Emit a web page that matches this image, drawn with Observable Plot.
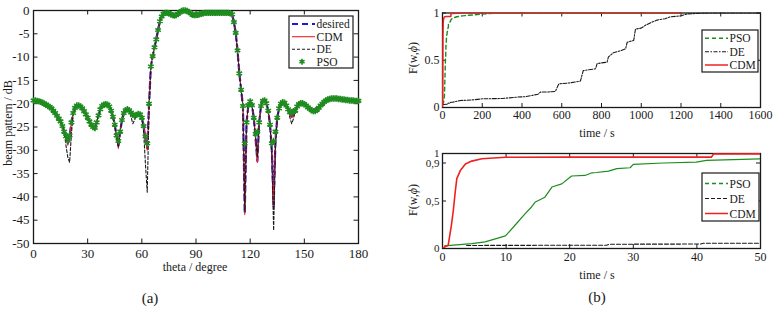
<!DOCTYPE html>
<html>
<head>
<meta charset="utf-8">
<script src="https://cdn.jsdelivr.net/npm/d3@7"></script>
<script src="https://cdn.jsdelivr.net/npm/@observablehq/plot@0.6"></script>
<style>
  body { margin: 0; background: #fff; }
  #fig { position: relative; width: 779px; height: 310px; font-family: "Liberation Serif", "Times New Roman", serif; color: #1a1a1a; overflow: hidden; }
  #fig svg { position: absolute; overflow: visible; font-family: "Liberation Serif", "Times New Roman", serif; }
  .lbl { position: absolute; white-space: nowrap; transform: translate(-50%, -50%); line-height: 1; }
  .rot { transform: translate(-50%, -50%) rotate(-90deg); }
</style>
</head>
<body>
<div id="fig"></div>
<script>
// ---- (a) beam pattern, one sample per degree ----
const theta = d3.range(0, 181);

const desired = [
  -19.3,-19.3,-19.4,-19.5,-19.6,-19.8,-20.0,-20.2,-20.5,-20.7,
  -21.0,-21.5,-22.0,-22.6,-23.2,-23.8,-24.8,-26.0,-27.3,-28.6,
  -27.0,-24.0,-22.0,-20.9,-20.4,-20.4,-20.6,-21.0,-21.6,-22.3,
  -23.0,-23.8,-24.5,-25.0,-25.2,-24.0,-22.5,-21.2,-20.5,-20.2,
  -20.1,-20.2,-20.6,-21.5,-22.8,-24.5,-27.0,-29.0,-26.0,-23.5,
  -22.0,-21.4,-21.2,-21.4,-21.9,-22.4,-22.6,-22.4,-22.2,-22.3,
  -23.0,-24.8,-27.5,-29.5,-20.0,-12.0,-9.8,-7.9,-6.2,-4.2,
  -2.3,-1.3,-0.7,-0.5,-0.5,-0.6,-0.8,-1.0,-1.1,-1.0,
  -0.7,-0.4,-0.1,0.0,0.0,-0.1,-0.3,-0.6,-0.9,-1.0,
  -1.0,-0.9,-0.8,-0.7,-0.6,-0.5,-0.5,-0.5,-0.5,-0.5,
  -0.5,-0.5,-0.5,-0.5,-0.5,-0.5,-0.5,-0.5,-0.5,-0.6,
  -0.8,-2.5,-4.8,-8.6,-13.5,-17.0,-20.5,-43.5,-24.0,-20.3,
  -19.5,-20.3,-23.0,-27.5,-32.3,-24.0,-20.5,-19.4,-19.3,-19.9,
  -21.5,-24.5,-30.0,-42.0,-28.0,-23.0,-21.0,-20.0,-19.7,-19.8,
  -20.4,-21.2,-22.2,-22.8,-22.4,-21.5,-20.6,-20.1,-19.9,-19.9,
  -20.1,-20.4,-20.8,-21.1,-21.4,-21.6,-21.6,-21.3,-20.9,-20.4,
  -20.0,-19.6,-19.3,-19.1,-19.0,-18.9,-18.9,-18.9,-18.9,-19.0,
  -19.0,-19.1,-19.1,-19.2,-19.2,-19.3,-19.3,-19.3,-19.4,-19.4,-19.4
];

const cdmPattern = [
  -19.3,-19.3,-19.4,-19.5,-19.6,-19.8,-20.0,-20.2,-20.5,-20.7,
  -21.0,-21.5,-22.0,-22.6,-23.2,-23.8,-24.8,-26.0,-27.6,-28.9,
  -27.0,-24.0,-22.0,-20.9,-20.4,-20.4,-20.6,-21.0,-21.6,-22.3,
  -23.0,-23.8,-24.5,-25.0,-25.2,-24.0,-22.5,-21.2,-20.5,-20.2,
  -20.1,-20.2,-20.6,-21.5,-22.8,-24.5,-27.0,-29.6,-26.0,-23.5,
  -22.0,-21.4,-21.2,-21.4,-21.9,-22.4,-22.6,-22.4,-22.2,-22.3,
  -23.0,-24.8,-27.5,-30.0,-20.0,-12.0,-9.8,-7.9,-6.2,-4.2,
  -2.3,-1.3,-0.7,-0.5,-0.5,-0.6,-0.8,-1.0,-1.1,-1.0,
  -0.7,-0.4,-0.1,0.0,0.0,-0.1,-0.3,-0.6,-0.9,-1.0,
  -1.0,-0.9,-0.8,-0.7,-0.6,-0.5,-0.5,-0.5,-0.5,-0.5,
  -0.5,-0.5,-0.5,-0.5,-0.5,-0.5,-0.5,-0.5,-0.5,-0.6,
  -0.8,-2.5,-4.8,-8.6,-13.5,-17.0,-20.5,-43.8,-24.0,-20.3,
  -19.5,-20.3,-23.0,-27.5,-32.6,-24.0,-20.5,-19.4,-19.3,-19.9,
  -21.5,-24.5,-30.0,-42.5,-28.0,-23.0,-21.0,-20.0,-19.7,-19.8,
  -20.4,-21.2,-22.4,-23.0,-22.4,-21.5,-20.6,-20.1,-19.9,-19.9,
  -20.1,-20.4,-20.8,-21.1,-21.4,-21.6,-21.6,-21.3,-20.9,-20.4,
  -20.0,-19.6,-19.3,-19.1,-19.0,-18.9,-18.9,-18.9,-18.9,-19.0,
  -19.0,-19.1,-19.1,-19.2,-19.2,-19.3,-19.3,-19.3,-19.4,-19.4,-19.4
];

const dePattern = [
  -19.3,-19.3,-19.4,-19.5,-19.6,-19.8,-20.0,-20.2,-20.5,-20.7,
  -21.0,-21.5,-22.0,-22.6,-23.2,-23.8,-24.8,-26.0,-29.0,-31.5,
  -32.6,-26.5,-22.0,-20.9,-20.4,-20.4,-20.6,-21.0,-21.6,-22.3,
  -23.0,-23.8,-24.5,-25.0,-25.8,-24.0,-22.5,-21.2,-20.5,-20.2,
  -20.1,-20.2,-20.6,-21.5,-22.8,-24.5,-27.5,-29.3,-26.0,-23.5,
  -22.0,-21.4,-21.2,-21.4,-22.8,-24.3,-23.5,-22.4,-22.2,-22.3,
  -23.0,-26.0,-33.0,-39.0,-21.0,-12.0,-9.8,-7.9,-6.2,-4.2,
  -2.3,-1.3,-0.7,-0.5,-0.5,-0.6,-0.8,-1.0,-1.1,-1.0,
  -0.7,-0.4,-0.1,0.0,0.0,-0.1,-0.3,-0.6,-0.9,-1.0,
  -1.0,-0.9,-0.8,-0.7,-0.6,-0.5,-0.5,-0.5,-0.5,-0.5,
  -0.5,-0.5,-0.5,-0.5,-0.5,-0.5,-0.5,-0.5,-0.5,-0.6,
  -0.8,-2.5,-4.8,-8.6,-13.5,-17.0,-20.5,-43.0,-24.0,-20.3,
  -19.5,-20.3,-23.0,-27.0,-31.5,-24.0,-20.5,-19.4,-19.3,-19.9,
  -21.5,-24.5,-31.0,-47.2,-29.0,-23.0,-21.0,-20.0,-19.7,-19.8,
  -20.4,-21.2,-23.0,-24.3,-23.2,-21.5,-20.6,-20.1,-19.9,-19.9,
  -20.1,-20.4,-20.8,-21.1,-21.4,-21.6,-21.0,-20.7,-20.6,-20.4,
  -20.0,-19.6,-19.3,-19.1,-19.0,-18.9,-18.9,-18.9,-18.9,-19.0,
  -19.0,-19.1,-19.1,-19.2,-19.2,-19.3,-19.3,-19.3,-19.4,-19.4,-19.4
];

const psoPattern = [
  -19.3,-19.3,-19.4,-19.5,-19.6,-19.8,-20.0,-20.2,-20.5,-20.7,
  -21.0,-21.5,-22.0,-22.6,-23.2,-23.8,-24.8,-26.0,-27.0,-27.9,
  -26.8,-24.0,-22.0,-20.9,-20.4,-20.4,-20.6,-21.0,-21.6,-22.3,
  -23.0,-23.8,-24.5,-25.0,-25.2,-24.0,-22.5,-21.2,-20.5,-20.2,
  -20.1,-20.2,-20.6,-21.5,-22.8,-24.5,-26.8,-28.0,-26.0,-23.5,
  -22.0,-21.4,-21.2,-21.4,-21.9,-22.4,-22.6,-22.4,-22.2,-22.3,
  -23.0,-24.8,-27.0,-28.5,-20.0,-12.0,-9.8,-7.9,-6.2,-4.2,
  -2.3,-1.3,-0.7,-0.5,-0.5,-0.6,-0.8,-1.0,-1.1,-1.0,
  -0.7,-0.4,-0.1,0.0,0.0,-0.1,-0.3,-0.6,-0.9,-1.0,
  -1.0,-0.9,-0.8,-0.7,-0.6,-0.5,-0.5,-0.5,-0.5,-0.5,
  -0.5,-0.5,-0.5,-0.5,-0.5,-0.5,-0.5,-0.5,-0.5,-0.6,
  -0.8,-2.5,-4.8,-8.6,-13.5,-17.0,-20.5,-28.5,-24.0,-20.3,
  -19.5,-20.3,-23.0,-26.5,-26.0,-24.0,-20.5,-19.4,-19.3,-19.9,
  -21.5,-24.5,-28.5,-28.0,-26.0,-23.0,-21.0,-20.0,-19.7,-19.8,
  -20.4,-21.2,-21.8,-21.9,-21.6,-21.5,-20.6,-20.1,-19.9,-19.9,
  -20.1,-20.4,-20.8,-21.1,-21.4,-21.6,-21.6,-21.3,-20.9,-20.4,
  -20.0,-19.6,-19.3,-19.1,-19.0,-18.9,-18.9,-18.9,-18.9,-19.0,
  -19.0,-19.1,-19.1,-19.2,-19.2,-19.3,-19.3,-19.3,-19.4,-19.4,-19.4
];

const thetaTicks = [0, 30, 60, 90, 120, 150, 180];
const dbTicks = [-50, -45, -40, -35, -30, -25, -20, -15, -10, -5, 0];

// ---- (b) convergence: normalized objective F(w,phi) against run time ----
const cdmTime = [0, 0.4, 0.9, 1.4, 1.7, 2.0, 2.25, 2.8, 3.6, 4.6, 6.2, 9.9, 20, 30, 42.3, 42.6, 50, 100, 300, 600, 900, 1200];
const cdmF    = [0, 0.018, 0.035, 0.245, 0.40, 0.595, 0.735, 0.82, 0.89, 0.92, 0.944, 0.96, 0.962, 0.962, 0.962, 0.995, 0.996, 1, 1, 1, 1, 1];

const psoTime = [0.3, 4.6, 6.7, 9.9, 11.4, 13.0, 14.0, 14.6, 16.1, 17.2, 18.75, 20.3, 22.4, 23.5, 24.2, 26.1, 27.4, 29.5, 30.0, 34.7, 39.9, 41.5, 50, 72, 100, 156, 200, 300, 600, 900, 1200];
const psoF    = [0.028, 0.052, 0.07, 0.133, 0.245, 0.367, 0.437, 0.49, 0.54, 0.647, 0.68, 0.763, 0.769, 0.797, 0.80, 0.815, 0.84, 0.85, 0.885, 0.90, 0.91, 0.927, 0.944, 0.96, 0.97, 0.98, 0.99, 1, 1, 1, 1];

const deTime = [3.8, 25.8, 26.2, 40.6, 41, 50, 90, 150, 200, 300, 376, 420, 451, 480, 493, 540, 568, 585, 640, 694, 708, 770, 778, 828, 835, 860, 895, 921, 929, 962, 971, 1000, 1021, 1050, 1080, 1120, 1147, 1200, 1231, 1280, 1332, 1400, 1600];
const deF    = [0.032, 0.035, 0.045, 0.047, 0.055, 0.056, 0.074, 0.08, 0.092, 0.095, 0.11, 0.115, 0.128, 0.14, 0.163, 0.165, 0.17, 0.25, 0.26, 0.28, 0.39, 0.41, 0.465, 0.48, 0.535, 0.58, 0.60, 0.62, 0.69, 0.71, 0.83, 0.84, 0.87, 0.90, 0.925, 0.94, 0.96, 0.97, 0.99, 0.995, 1, 1, 1];

const timeTicksLong  = [0, 200, 400, 600, 800, 1000, 1200, 1400, 1600];
const fTicksLong     = [0, 0.5, 1];
const timeTicksShort = [0, 10, 20, 30, 40, 50];
const fTicksShort    = [0, 0.5, 0.9, 1];

// ---- styling ----
const RED = "#f02020", GREEN = "#1f8c1f", BLUE = "#1a1ad2", INK = "#1a1a1a";
const FONT = '"Liberation Serif", "Times New Roman", serif';

const beamRows = theta.map((t, i) => ({theta: t, desired: desired[i], cdm: cdmPattern[i], de: dePattern[i], pso: psoPattern[i]}));
const cdmRows = cdmTime.map((t, i) => ({t, f: cdmF[i]}));
const psoRows = psoTime.map((t, i) => ({t, f: psoF[i]}));
const deRows  = deTime.map((t, i) => ({t, f: deF[i]}));

const fig = document.getElementById("fig");
const plain = d => String(d);
const comma = d => String(d).replace(".", ",");

// MATLAB-like box: inward ticks on all four sides
function boxTicks(xTicks, yTicks, innerW, innerH, len) {
  return [
    Plot.ruleX(xTicks, {x: d => d, insetTop: innerH - len, stroke: INK, strokeWidth: 1}),
    Plot.ruleX(xTicks, {x: d => d, insetBottom: innerH - len, stroke: INK, strokeWidth: 1}),
    Plot.ruleY(yTicks, {y: d => d, insetRight: innerW - len, stroke: INK, strokeWidth: 1}),
    Plot.ruleY(yTicks, {y: d => d, insetLeft: innerW - len, stroke: INK, strokeWidth: 1}),
    Plot.frame({stroke: INK, strokeWidth: 1.3})
  ];
}

function place(svg, left, top) {
  svg.style.left = left + "px";
  svg.style.top = top + "px";
  fig.appendChild(svg);
}

// (a)
{
  const W = 390, H = 280, ml = 33, mr = 32, mt = 10, mb = 37;
  const svg = Plot.plot({
    width: W, height: H, marginLeft: ml, marginRight: mr, marginTop: mt, marginBottom: mb,
    x: {domain: [0, 180], axis: null},
    y: {domain: [-50, 0], axis: null},
    style: {fontFamily: FONT, fontSize: "13px", color: INK, background: "transparent", overflow: "visible"},
    marks: [
      ...boxTicks(thetaTicks, dbTicks, W - ml - mr, H - mt - mb, 4.5),
      Plot.axisX(thetaTicks, {anchor: "bottom", tickSize: 0, tickPadding: 5, tickFormat: plain, label: null}),
      Plot.axisY(dbTicks, {anchor: "left", tickSize: 0, tickPadding: 4, tickFormat: plain, label: null}),
      Plot.line(beamRows, {x: "theta", y: "desired", stroke: BLUE, strokeWidth: 2.2, strokeDasharray: "6,4"}),
      Plot.line(beamRows, {x: "theta", y: "cdm", stroke: RED, strokeWidth: 1.1}),
      Plot.line(beamRows, {x: "theta", y: "de", stroke: INK, strokeWidth: 1.1, strokeDasharray: "3,2"}),
      Plot.dot(beamRows, {x: "theta", y: "pso", symbol: "asterisk", r: 3, stroke: GREEN, strokeWidth: 1.6})
    ]
  });
  place(svg, 0, 0);
}

// (b) upper: full run
{
  const W = 389, H = 140, ml = 52, mr = 19, mt = 12.5, mb = 33;
  const svg = Plot.plot({
    width: W, height: H, marginLeft: ml, marginRight: mr, marginTop: mt, marginBottom: mb,
    x: {domain: [0, 1600], axis: null},
    y: {domain: [0, 1], axis: null},
    style: {fontFamily: FONT, fontSize: "12px", color: INK, background: "transparent", overflow: "visible"},
    marks: [
      ...boxTicks(timeTicksLong, fTicksLong, W - ml - mr, H - mt - mb, 4),
      Plot.axisX(timeTicksLong, {anchor: "bottom", tickSize: 0, tickPadding: 3, tickFormat: plain, label: null}),
      Plot.axisY(fTicksLong, {anchor: "left", tickSize: 0, tickPadding: 3, tickFormat: plain, label: null}),
      Plot.line(psoRows, {x: "t", y: "f", stroke: GREEN, strokeWidth: 1.4, strokeDasharray: "4,3", clip: true}),
      Plot.line(deRows, {x: "t", y: "f", stroke: INK, strokeWidth: 1.1, strokeDasharray: "4,1.5,1.5,1.5", clip: true}),
      Plot.line(cdmRows, {x: "t", y: "f", stroke: RED, strokeWidth: 1.5, clip: true})
    ]
  });
  place(svg, 390, 0);
}

// (b) lower: first 50 s
{
  const W = 389, H = 140, ml = 52, mr = 19, mt = 13, mb = 32;
  const svg = Plot.plot({
    width: W, height: H, marginLeft: ml, marginRight: mr, marginTop: mt, marginBottom: mb,
    x: {domain: [0, 50], axis: null},
    y: {domain: [0, 1], axis: null},
    style: {fontFamily: FONT, fontSize: "12px", color: INK, background: "transparent", overflow: "visible"},
    marks: [
      ...boxTicks(timeTicksShort, fTicksShort, W - ml - mr, H - mt - mb, 4),
      Plot.axisX(timeTicksShort, {anchor: "bottom", tickSize: 0, tickPadding: 4, tickFormat: plain, label: null}),
      Plot.axisY(fTicksShort, {anchor: "left", tickSize: 0, tickPadding: 3, tickFormat: comma, label: null, fontSize: 11}),
      Plot.line(psoRows, {x: "t", y: "f", stroke: GREEN, strokeWidth: 1.2, clip: true}),
      Plot.line(deRows, {x: "t", y: "f", stroke: INK, strokeWidth: 1.1, strokeDasharray: "4,2", clip: true}),
      Plot.line(cdmRows, {x: "t", y: "f", stroke: RED, strokeWidth: 1.6, clip: true})
    ]
  });
  place(svg, 390, 140);
}

// ---- legends ----
const ov = d3.select(fig).append("svg")
  .attr("width", 779).attr("height", 310)
  .style("left", "0px").style("top", "0px")
  .style("font-family", FONT);

function legend(x, y, w, h, rows) {
  const g = ov.append("g");
  g.append("rect").attr("x", x).attr("y", y).attr("width", w).attr("height", h)
    .attr("fill", "#fff").attr("stroke", INK).attr("stroke-width", 1.2);
  for (const r of rows) {
    if (r.symbol) {
      g.append("path").attr("d", d3.symbol(d3.symbolAsterisk, 24)())
        .attr("transform", `translate(${x + 13},${r.y})`)
        .attr("fill", "none").attr("stroke", r.stroke).attr("stroke-width", 1.6);
    } else {
      g.append("line").attr("x1", x + 3).attr("x2", x + 26).attr("y1", r.y).attr("y2", r.y)
        .attr("stroke", r.stroke).attr("stroke-width", r.width).attr("stroke-dasharray", r.dash || null);
    }
    g.append("text").attr("x", x + 27.5).attr("y", r.y).attr("dy", "0.35em")
      .attr("font-size", "11.5px").attr("fill", INK).text(r.label);
  }
}

legend(289, 16, 64, 52, [
  {label: "desired", y: 24, stroke: BLUE, width: 2.2, dash: "6,4"},
  {label: "CDM", y: 36.7, stroke: RED, width: 1.1},
  {label: "DE", y: 49.3, stroke: INK, width: 1.1, dash: "3,2"},
  {label: "PSO", y: 61.7, stroke: GREEN, symbol: true}
]);
legend(702, 30, 56, 42, [
  {label: "PSO", y: 38.3, stroke: GREEN, width: 1.4, dash: "4,3"},
  {label: "DE", y: 51.7, stroke: INK, width: 1.1, dash: "4,1.5,1.5,1.5"},
  {label: "CDM", y: 65, stroke: RED, width: 1.5}
]);
legend(702, 173, 57, 48, [
  {label: "PSO", y: 183.5, stroke: GREEN, width: 1.4, dash: "4,3"},
  {label: "DE", y: 198.5, stroke: INK, width: 1.1, dash: "4,2"},
  {label: "CDM", y: 213.5, stroke: RED, width: 1.5}
]);

// ---- axis titles and panel captions ----
function label(html, x, y, size, rotate) {
  const d = document.createElement("div");
  d.className = "lbl" + (rotate ? " rot" : "");
  d.style.left = x + "px";
  d.style.top = y + "px";
  d.style.fontSize = size + "px";
  d.innerHTML = html;
  fig.appendChild(d);
}
label("beam pattern / dB", 8, 123, 12, true);
label("theta / degree", 195, 267, 12);
label("F(w,<i>ϕ</i>)", 413, 58, 12, true);
label("time / s", 597, 133, 12);
label("F(w,<i>ϕ</i>)", 413, 200, 12, true);
label("time / s", 597, 275, 12);
label("(a)", 150, 298, 15);
label("(b)", 597, 297, 15);
</script>
</body>
</html>
